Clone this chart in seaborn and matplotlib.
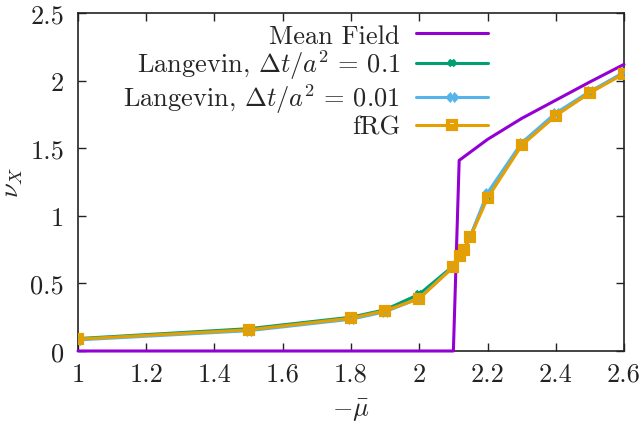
import numpy as np
import pandas as pd
import matplotlib
matplotlib.use("Agg")
import matplotlib.pyplot as plt
import seaborn as sns

# ---- data ----
mf_x = [1.0, 2.1, 2.117, 2.2, 2.3, 2.4, 2.5, 2.6]
mf_y = [0.0, 0.0, 1.41, 1.565, 1.72, 1.855, 1.99, 2.12]

pts_x = [1.0, 1.5, 1.8, 1.9, 2.0, 2.1, 2.12, 2.13, 2.15, 2.2, 2.3, 2.4, 2.5, 2.6]
lang01_y = [0.092, 0.165, 0.25, 0.305, 0.42, 0.63, 0.71, 0.75, 0.85, 1.15, 1.53, 1.75, 1.91, 2.06]
lang001_y = [0.082, 0.15, 0.235, 0.29, 0.39, 0.625, 0.705, 0.75, 0.85, 1.17, 1.54, 1.76, 1.92, 2.06]
frg_y = [0.088, 0.157, 0.243, 0.298, 0.388, 0.62, 0.70, 0.747, 0.845, 1.13, 1.52, 1.74, 1.91, 2.05]

labels = ["Mean Field", r"Langevin, $\Delta t/a^2\,=\,0.1$",
          r"Langevin, $\Delta t/a^2\,=\,0.01$", "fRG"]
colors = ["#9400D3", "#009E73", "#56B4E9", "#E69F00"]

xticks = [1.0, 1.2, 1.4, 1.6, 1.8, 2.0, 2.2, 2.4, 2.6]
xticklabels = ["1", "1.2", "1.4", "1.6", "1.8", "2", "2.2", "2.4", "2.6"]
yticks = [0.0, 0.5, 1.0, 1.5, 2.0, 2.5]
yticklabels = ["0", "0.5", "1", "1.5", "2", "2.5"]

sns.set_theme(style="ticks")
plt.rcParams["font.family"] = ["cmr10", "DejaVu Serif"]
plt.rcParams["mathtext.fontset"] = "cm"
plt.rcParams["axes.unicode_minus"] = False
plt.rcParams["axes.formatter.use_mathtext"] = True

FS = 19
fig = plt.figure(figsize=(6.41, 4.31), dpi=100)
ax = fig.add_axes([78/641, 1-352/431, (624-78)/641, (352-14)/431])

lw = 2.2
sns.lineplot(x=mf_x, y=mf_y, ax=ax, color=colors[0], lw=lw, label=labels[0],
             sort=False, estimator=None, clip_on=False, zorder=3)
sns.lineplot(x=pts_x, y=lang01_y, ax=ax, color=colors[1], lw=lw, label=labels[1],
             marker="x", markersize=5, mew=2.6, mec=colors[1], estimator=None, zorder=4)
sns.lineplot(x=pts_x, y=lang001_y, ax=ax, color=colors[2], lw=lw, label=labels[2],
             marker="X", markersize=7, mew=0.5, mec=colors[2], estimator=None, zorder=5)
sns.lineplot(x=pts_x, y=frg_y, ax=ax, color=colors[3], lw=lw, label=labels[3],
             marker="s", markersize=6, mfc="none", mew=3, mec=colors[3],
             estimator=None, zorder=6)

ax.set_xlim(1.0, 2.6)
ax.set_ylim(0.0, 2.5)
ax.set_xticks(xticks)
ax.set_xticklabels(xticklabels)
ax.set_yticks(yticks)
ax.set_yticklabels(yticklabels)
ax.tick_params(direction="in", length=6, width=1, top=True, right=True,
               labelsize=FS, colors="#222222")
ax.tick_params(axis="x", pad=8)
ax.tick_params(axis="y", pad=10)
for s in ax.spines.values():
    s.set_linewidth(1.2)
    s.set_color("#222222")
    s.set_visible(True)

ax.set_xlabel(r"$-\bar{\mu}$", fontsize=FS, labelpad=8)
ax.set_ylabel(r"$\nu_X$", fontsize=FS, labelpad=4)

# legend: right-aligned text then handle (gnuplot style)
ax.legend(loc="upper right", bbox_to_anchor=((488 - 78) / 546, 1 - (25 - 14) / 338),
          frameon=False, markerfirst=False, fontsize=FS,
          handlelength=72 / (FS * 100 / 72), handletextpad=0.6,
          labelspacing=0.0, borderaxespad=0, borderpad=0)

fig.savefig("out.png", dpi=100)
